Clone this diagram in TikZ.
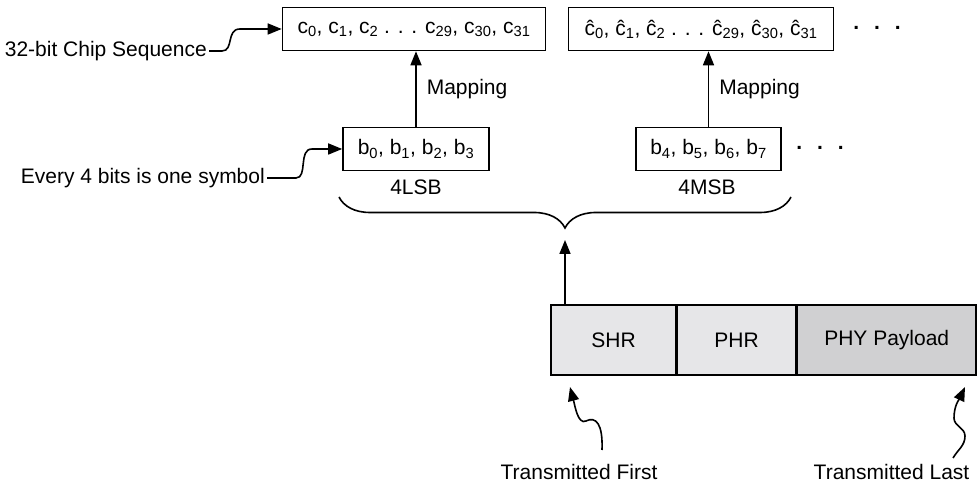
\documentclass[tikz,border=0pt]{standalone}
\usepackage{fontspec}
\setmainfont{Liberation Sans}
\usepackage{xcolor}
\usepackage{tikz}
\usetikzlibrary{arrows.meta,positioning,decorations.pathreplacing}
\definecolor{hdrgray}{RGB}{230,230,232}
\definecolor{paygray}{RGB}{208,208,210}
\newcommand{\chipc}[1]{c\textsubscript{#1}}
\newcommand{\chiphat}[1]{ĉ\textsubscript{#1}}
\newcommand{\symb}[1]{b\textsubscript{#1}}

\begin{document}
\begin{tikzpicture}[x=1pt, y=1pt,
  font=\fontsize{21}{25}\selectfont,
  box/.style={draw, line width=1.6pt, minimum height=43pt, inner sep=0pt},
  fld/.style={draw, line width=1.6pt, minimum height=70pt, inner sep=0pt},
  arr/.style={line width=1.6pt, -{Triangle[length=14pt,width=11pt]}},
  lbl/.style={inner sep=2pt}
]
  \useasboundingbox (0,0) rectangle (977,486);
  % chip sequences
  \node[box, minimum width=263pt] (c0) at (414,457) {\chipc{0}, \chipc{1}, \chipc{2} . . . \chipc{29}, \chipc{30}, \chipc{31}};
  \node[box, minimum width=265pt] (ch) at (701,457) {\chiphat{0}, \chiphat{1}, \chiphat{2} . . . \chiphat{29}, \chiphat{30}, \chiphat{31}};
  \node[lbl] (cdots) at (877,458) {\textbf{.\hspace{15pt}.\hspace{15pt}.}};
  % symbols
  \node[box, minimum width=146pt] (b0) at (416,337) {\symb{0}, \symb{1}, \symb{2}, \symb{3}};
  \node[box, minimum width=145pt] (b4) at (708.5,337) {\symb{4}, \symb{5}, \symb{6}, \symb{7}};
  \node[lbl] (bdots) at (820,338) {\textbf{.\hspace{15pt}.\hspace{15pt}.}};
  \node[lbl] (lsb) at (416,299) {4LSB};
  \node[lbl] (msb) at (707,299) {4MSB};
  \draw[arr] (b0.north) -- node[lbl, right, xshift=8pt]{Mapping} (b0.north |- c0.south);
  \draw[arr] (b4.north) -- node[lbl, right, xshift=8pt]{Mapping} (b4.north |- ch.south);
  % side notes
  \node[lbl, anchor=east] (chiplbl) at (209,435) {32-bit Chip Sequence};
  \node[lbl, anchor=east] (symlbl) at (267,308) {Every 4 bits is one symbol};
  \draw[arr] (chiplbl.east) -- (222,435) .. controls (234,435) and (226,457) .. (240,457) -- (c0.west);
  \draw[arr] (symlbl.east) -- (296,308) .. controls (308,308) and (298,337) .. (312,337) -- (b0.west);
  % brace over the symbols
  \draw[line width=1.6pt, decorate, decoration={brace, amplitude=31pt}] (791,289) -- (339,289);
  \coordinate (tip) at (565,246);
  % PPDU fields
  \node[fld, fill=hdrgray, minimum width=125pt] (shr) at (613.5,146) {SHR};
  \node[fld, fill=hdrgray, minimum width=118pt, right=0pt of shr] (phr) {PHR};
  \node[fld, fill=paygray, minimum width=179pt, right=0pt of phr] (pay) {PHY Payload};
  \draw[arr] (tip |- shr.north) -- (tip);
  % transmission order
  \node[lbl] (first) at (579,14) {Transmitted First};
  \node[lbl] (last) at (891.5,14) {Transmitted Last};
  \coordinate (firsttail) at (602,36);
  \coordinate (firsttip) at (570,99);
  \coordinate (lasttail) at (953,28);
  \coordinate (lasttip) at (965,99);
  \draw[arr] (firsttail) .. controls (603,62) and (596,70) .. (586,65) .. controls (578,61) and (575,80) .. (firsttip);
  \draw[arr] (lasttail) to[out=60,in=-90] (965,50) to[out=90,in=-90] (954,68) to[out=90,in=-115] (lasttip);
\end{tikzpicture}
\end{document}
